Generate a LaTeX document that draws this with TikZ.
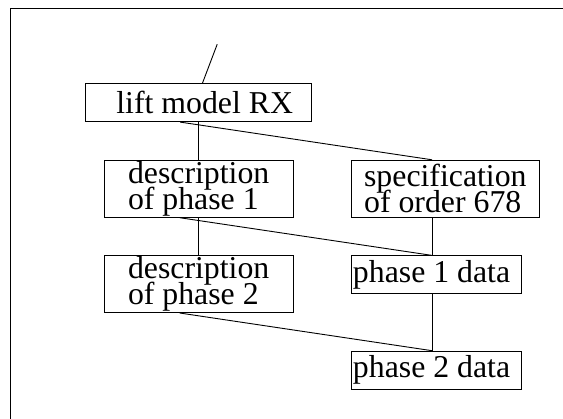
\documentclass[tikz,border=0pt]{standalone}
\usepackage{fontspec}
\setmainfont{Liberation Serif}
\usetikzlibrary{matrix}

\tikzset{
	part/.style={draw, line width=0.9pt, inner sep=1pt, align=left,
		font={\fontsize{31.8}{25.7}\selectfont\lineskiplimit=-50pt}},
	link/.style={line width=0.9pt}
}

\begin{document}
\begin{tikzpicture}[x=1pt, y=-1pt]
		\useasboundingbox (0,0) rectangle (563,419);
		\draw[line width=1.3pt] (10.3,419) -- (10.3,8.3) -- (563,8.3);
		\matrix (m) [inner sep=0pt, row sep=37.7pt, column sep=38.5pt, anchor=north west,
			column 1/.style={nodes={anchor=north}},
			column 2/.style={nodes={anchor=north west}}] at (85,83)
		{
			\node[part, minimum width=226pt, minimum height=38pt] (lift) {\hspace*{12pt}lift model RX}; & \\
			\node[part, minimum width=189pt, minimum height=57pt] (descA) {description\\of phase 1}; &
			\node[part, minimum width=188.6pt, minimum height=57pt] (spec) {specification\\of order 678}; \\
			\node[part, minimum width=189pt, minimum height=56.7pt] (descB) {description\\of phase 2}; &
			\node[part, minimum width=170pt, minimum height=37.7pt] (dataA) {phase 1 data\hspace*{9pt}}; \\
			& \node[part, minimum width=170pt, minimum height=38pt] (dataB) {phase 2 data\hspace*{9pt}}; \\
		};
		\coordinate (feed) at (217.2,44.3);
		\draw[link] ([xshift=3.8pt]lift.north) -- (feed);
		\draw[link] (lift.south) -- (descA.north);
		\draw[link] ([xshift=-18.5pt]lift.south) -- ([xshift=-13.3pt]spec.north);
		\draw[link] (descA.south) -- (descB.north);
		\draw[link] ([xshift=-19pt]descA.south) -- ([xshift=-4pt]dataA.north);
		\draw[link] ([xshift=-13.3pt]spec.south) -- ([xshift=-4pt]dataA.north);
		\draw[link] ([xshift=-19pt]descB.south) -- ([xshift=-4pt]dataB.north);
		\draw[link] ([xshift=-4pt]dataA.south) -- ([xshift=-4pt]dataB.north);
	\end{tikzpicture}
\end{document}
